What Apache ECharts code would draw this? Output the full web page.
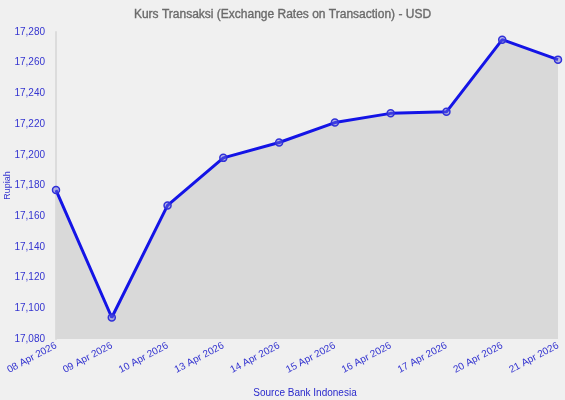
<!DOCTYPE html>
<html><head><meta charset="utf-8">
<script src="https://cdn.jsdelivr.net/npm/echarts@6/dist/echarts.min.js"></script>
<style>html,body{margin:0;padding:0;background:#f0f0f0;}#c{width:565px;height:400px;}</style>
</head><body><div id="c"></div>
<script>
const categories = ['08 Apr 2026','09 Apr 2026','10 Apr 2026','13 Apr 2026','14 Apr 2026','15 Apr 2026','16 Apr 2026','17 Apr 2026','20 Apr 2026','21 Apr 2026'];
const rates = [17177, 17094, 17167, 17198, 17208, 17221, 17227, 17228, 17275, 17262];
const yMin = 17080, yMax = 17280, yStep = 20;
const titleText = 'Kurs Transaksi (Exchange Rates on Transaction) - USD';
const yName = 'Rupiah';
const sourceText = 'Source Bank Indonesia';

const chart = echarts.init(document.getElementById('c'));
chart.setOption({
  backgroundColor: '#f0f0f0',
  textStyle: {fontFamily: 'Liberation Sans, Arial, sans-serif'},
  title: [{
    text: titleText, left: 'center', top: 9, padding: 0,
    textStyle: {fontSize: 12, fontWeight: 'normal', color: '#6a6a6a', fontFamily: 'Liberation Sans, Arial, sans-serif',
      textBorderColor: '#6a6a6a', textBorderWidth: 0.35}
  },{
    text: sourceText, left: 305, top: 388, textAlign: 'center', padding: 0,
    textStyle: {fontSize: 10, fontWeight: 'normal', color: '#2a2acc', fontFamily: 'Liberation Sans, Arial, sans-serif'}
  }],
  grid: {left: 56, right: 7, top: 32, bottom: 61, outerBoundsMode: 'none', containLabel: false},
  xAxis: {
    type: 'category', data: categories, boundaryGap: false,
    axisLine: {show: false}, axisTick: {show: false}, splitLine: {show: false},
    axisLabel: {rotate: 28, color: '#3434d0', fontSize: 10, margin: 6, interval: 0}
  },
  yAxis: {
    type: 'value', min: yMin, max: yMax, interval: yStep,
    name: yName, nameLocation: 'middle', nameGap: 44, nameRotate: 90, nameMoveOverlap: false,
    nameTextStyle: {color: '#3434d0', fontSize: 9},
    axisLine: {show: true, lineStyle: {color: '#dcdcdc', width: 2}},
    axisTick: {show: false}, splitLine: {show: false},
    axisLabel: {color: '#3434d0', fontSize: 10, margin: 11,
      formatter: v => v.toLocaleString('en-US')}
  },
  series: [{
    type: 'line', data: rates,
    symbol: 'circle', symbolSize: 7,
    lineStyle: {color: '#1414e6', width: 3},
    itemStyle: {color: 'rgba(110,110,220,0.45)', borderColor: '#3030d8', borderWidth: 1.5},
    areaStyle: {color: '#d9d9d9', opacity: 1, origin: 'start'},
    z: 3
  }],
  animation: false
});
</script></body></html>
